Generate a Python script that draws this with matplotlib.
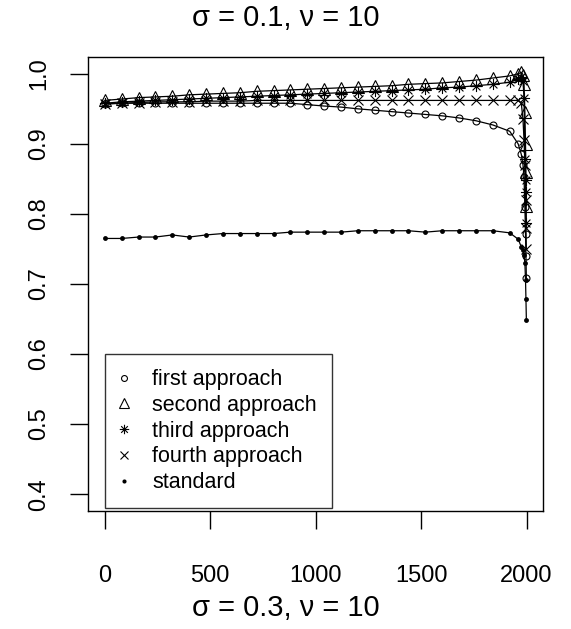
import numpy as np
import matplotlib
matplotlib.use('Agg')
import matplotlib.pyplot as plt
from matplotlib.path import Path

plt.rcParams['font.family'] = ['Liberation Sans', 'DejaVu Sans']

# x positions of the plotted points
x = [0, 80, 160, 240, 320, 400, 480, 560, 640, 720, 800, 880, 960, 1040, 1120,
     1200, 1280, 1360, 1440, 1520, 1600, 1680, 1760, 1840, 1920,
     1960, 1975, 1983, 1988, 1992, 1995, 1997, 1999]

first = [0.957, 0.958, 0.958, 0.958, 0.958, 0.958, 0.958, 0.958, 0.958, 0.958, 0.958, 0.958,
         0.956, 0.954, 0.9525, 0.950, 0.948, 0.946, 0.944, 0.942, 0.940, 0.937, 0.933, 0.927, 0.918,
         0.900, 0.885, 0.870, 0.852, 0.810, 0.772, 0.740, 0.708]
second = [0.962, 0.964, 0.966, 0.967, 0.968, 0.970, 0.971, 0.972, 0.973, 0.975, 0.976, 0.977,
          0.978, 0.979, 0.980, 0.981, 0.982, 0.983, 0.985, 0.986, 0.987, 0.989, 0.991, 0.994, 0.997,
          1.000, 1.002, 0.999, 0.985, 0.945, 0.900, 0.860, 0.812]
third = [0.958, 0.960, 0.961, 0.962, 0.963, 0.964, 0.965, 0.966, 0.967, 0.968, 0.969, 0.970,
         0.971, 0.972, 0.973, 0.974, 0.975, 0.976, 0.977, 0.978, 0.980, 0.981, 0.983, 0.985, 0.988,
         0.992, 0.996, 0.990, 0.965, 0.878, 0.848, 0.832, 0.787]
fourth = [0.957, 0.958, 0.959, 0.960, 0.960, 0.960, 0.961, 0.961, 0.961, 0.962, 0.962, 0.962,
          0.962, 0.962, 0.962, 0.962, 0.962, 0.962, 0.962, 0.962, 0.962, 0.962, 0.962, 0.962, 0.962,
          0.962, 0.958, 0.935, 0.905, 0.870, 0.820, 0.780, 0.750]
standard = [0.765, 0.765, 0.767, 0.767, 0.770, 0.767, 0.770, 0.772, 0.772, 0.772, 0.772, 0.774,
            0.774, 0.774, 0.774, 0.776, 0.776, 0.776, 0.776, 0.774, 0.776, 0.776, 0.776, 0.776, 0.773,
            0.764, 0.753, 0.749, 0.742, 0.730, 0.706, 0.679, 0.649]

labels = ['first approach', 'second approach', 'third approach', 'fourth approach', 'standard']
xticks = [0, 500, 1000, 1500, 2000]
yticks = [0.4, 0.5, 0.6, 0.7, 0.8, 0.9, 1.0]

# R style asterisk (pch = 8): plus sign on top of a cross
d = 0.7071
star = Path([(-1, 0), (1, 0), (0, -1), (0, 1), (-d, -d), (d, d), (-d, d), (d, -d)],
            [Path.MOVETO, Path.LINETO] * 4)

fig = plt.figure(figsize=(5.71, 6.29), dpi=100)
ax = fig.add_axes([0.154, 0.1876, 0.797, 0.7218])

lw = 0.9
ax.plot(x, first, color='black', lw=lw, marker='o', ms=5, mfc='none', mew=0.8, label=labels[0])
ax.plot(x, second, color='black', lw=lw, marker='^', ms=8, mfc='none', mew=0.8, label=labels[1])
ax.plot(x, third, color='black', lw=lw, marker=star, ms=8, mfc='none', mew=0.8, label=labels[2])
ax.plot(x, fourth, color='black', lw=lw, marker='x', ms=7, mfc='none', mew=0.8, label=labels[3])
ax.plot(x, standard, color='black', lw=lw, marker='o', ms=3.5, mfc='black', mew=0, label=labels[4])

ax.set_xlim(-80, 2078)
ax.set_ylim(0.376, 1.024)
ax.set_xticks(xticks)
ax.set_xticklabels([str(v) for v in xticks])
ax.set_yticks(yticks)
ax.set_yticklabels(['%.1f' % v for v in yticks], rotation=90, va='center')

ax.tick_params(axis='both', direction='out', length=13, width=1, labelsize=17, colors='black')
ax.tick_params(axis='x', pad=26)
ax.tick_params(axis='y', pad=14)
for s in ax.spines.values():
    s.set_linewidth(1.0)

leg = ax.legend(loc='lower left', bbox_to_anchor=(0.037, 0.006), borderaxespad=0,
                frameon=True, fancybox=False, edgecolor='black', fontsize=15.5,
                handlelength=0.35, handletextpad=1.15, labelspacing=0.22,
                borderpad=0.7, markerscale=0.85)
leg.get_frame().set_linewidth(1.0)
for h in leg.get_lines():
    h.set_linestyle('none')

fig.text(0.5, 0.972, 'σ = 0.1, ν = 10', ha='center', va='center', fontsize=21)
fig.text(0.5, 0.033, 'σ = 0.3, ν = 10', ha='center', va='center', fontsize=21)

fig.savefig('out.png', dpi=100)
